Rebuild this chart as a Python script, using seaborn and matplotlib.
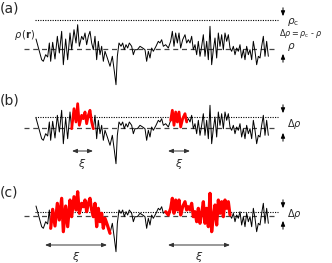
import numpy as np
import matplotlib
matplotlib.use('Agg')
import matplotlib.pyplot as plt
import seaborn as sns

# sample positions along r (arbitrary units) and the signal deviation from the mean
r = [108, 125, 130, 137, 143, 148, 152, 158, 165, 172,
     178, 185, 190, 197, 203, 210, 215, 222, 228, 233,
     238, 245, 250, 255, 260, 265, 270, 275, 280, 285,
     290, 295, 300, 305, 310, 315, 322, 330, 337, 343,
     348, 352, 357, 363, 368, 373, 378, 383, 388, 395,
     400, 405, 412, 420, 428, 435, 440, 445, 450, 455,
     460, 468, 475, 480, 485, 490, 497, 505, 512, 517,
     522, 527, 532, 537, 542, 548, 555, 560, 565, 570,
     575, 580, 585, 590, 595, 600, 605, 610, 615, 620,
     625, 630, 635, 640, 645, 650, 655, 660, 665, 670,
     675, 680, 685, 690, 695, 700, 705, 710, 715, 720,
     725, 730, 735, 740, 745, 750, 755, 760, 765, 770,
     775, 780, 785, 790, 795, 800, 805]
signal = [10, -10.7, -12.3, -5.7, -8, 6, -12.3, 6.7, -10, 12.7,
          -4, 17.7, -15.7, 10, -10.7, 16, -0.7, 19.3, 6, 24.3,
          2.7, 12.7, 9.3, 16, 4.3, 12.7, 17.7, 6, -0.7, 12.7,
          -10.7, 7.7, -5.7, 2.7, -12.3, -2.3, -9, -17.3, -7.3, -22.3,
          -35.7, -7.3, 6, 2.7, 6, -0.7, 4.3, 1, 6, 2.7,
          -5.7, -0.7, -0.7, 2.7, 1, -0.7, -12.3, -2.3, -9, 1,
          -2.3, 2.7, 7.7, 6, 9.3, 2.7, 4.3, 1, 7.7, 17.7,
          2.7, 16, 6, 16, 1, 9.3, 14.3, 6, 9.3, 6,
          12.7, -0.7, 4.3, -5.7, 7.7, -7.3, 2.7, 14.3, -7.3, 7.7,
          -10.7, 22.7, -15.7, -0.7, 11, -9, 16, 2.7, 14.3, -0.7,
          16, 7.7, 14.3, 1, -2.3, 2.7, -5.7, 1, -2.3, 4.3,
          -9, -0.7, -10.7, 2.7, -5.7, -0.7, -10.7, 7.7, -2.3, -15.7,
          -7.3, -9, 2.7, 12.7, -7.3, 7.7, -7.3]

# highlighted (red) index ranges per panel
red_b = [(16, 28), (68, 77)]
red_c = [(6, 37), (66, 103)]

panel_labels = ['(a)', '(b)', '(c)']

sns.set_style('white')
plt.rcParams['font.family'] = ['DejaVu Sans']
plt.rcParams['mathtext.fontset'] = 'dejavusans'

fig = plt.figure(figsize=(3.32, 2.63), dpi=100)
ax = fig.add_axes([0, 0, 1, 1])
ax.set_xlim(0, 332)
ax.set_ylim(263, 0)
ax.axis('off')

x = np.array(r) / 3.0
sig = np.array(signal)

# panel layout: (label y, mean line y, threshold line y)
panels = [(9, 49, 20), (101, 128, 117), (192, 216, 212)]
reds = [[], red_b, red_c]
red_lw = [0, 2.0, 2.3]

for (ly, base, thr), label, rr, rlw in zip(panels, panel_labels, reds, red_lw):
    ax.text(0, ly, label, fontsize=10, va='center', ha='left')
    ax.plot([35, 278], [thr, thr], ls=(0, (1, 1.2)), color='black', lw=0.8)
    ax.plot([24, 276], [base, base], ls=(0, (4, 3)), color='#444444', lw=0.9)
    y = base - sig
    sns.lineplot(x=x, y=y, ax=ax, color='black', lw=0.7, sort=False)
    for i0, i1 in rr:
        sns.lineplot(x=x[i0:i1 + 1], y=y[i0:i1 + 1], ax=ax, color='#ff0000',
                     lw=rlw, sort=False)
    # right-hand arrows
    ax.annotate('', xy=(283, thr - 1), xytext=(283, thr - 15),
                arrowprops=dict(arrowstyle='-|>,head_length=0.3,head_width=0.12',
                                color='black', lw=0.7))
    ax.annotate('', xy=(283, base + 2), xytext=(283, base + 16),
                arrowprops=dict(arrowstyle='-|>,head_length=0.3,head_width=0.12',
                                color='black', lw=0.7))

# panel (a) texts
ax.text(14, 35, r'$\rho\,(\mathbf{r})$', fontsize=7, va='center', ha='left')
ax.text(287, 22, r'$\rho_{\mathrm{c}}$', fontsize=7.5, va='center', ha='left')
ax.text(279, 34, r'$\Delta\rho = \rho_{\mathrm{c}}$ - $\rho$', fontsize=5.8,
        va='center', ha='left')
ax.text(287, 47, r'$\rho$', fontsize=7.5, va='center', ha='left')

# delta rho labels in (b) and (c)
ax.text(287, 124, r'$\Delta\rho$', fontsize=7, va='center', ha='left')
ax.text(287, 214, r'$\Delta\rho$', fontsize=7, va='center', ha='left')

# correlation length arrows
xi_spans = [(72, 93, 151, 164), (168, 190, 151, 164), (45, 107, 245, 257), (168, 230, 245, 257)]
for xa, xb, ya, yt in xi_spans:
    ax.annotate('', xy=(xa, ya), xytext=(xb, ya),
                arrowprops=dict(arrowstyle='<|-|>,head_length=0.3,head_width=0.12',
                                color='#333333', lw=0.7, shrinkA=0, shrinkB=0))
    ax.text((xa + xb) / 2, yt, r'$\xi$', fontsize=8, va='center', ha='center')

fig.savefig('out.png', dpi=100)
